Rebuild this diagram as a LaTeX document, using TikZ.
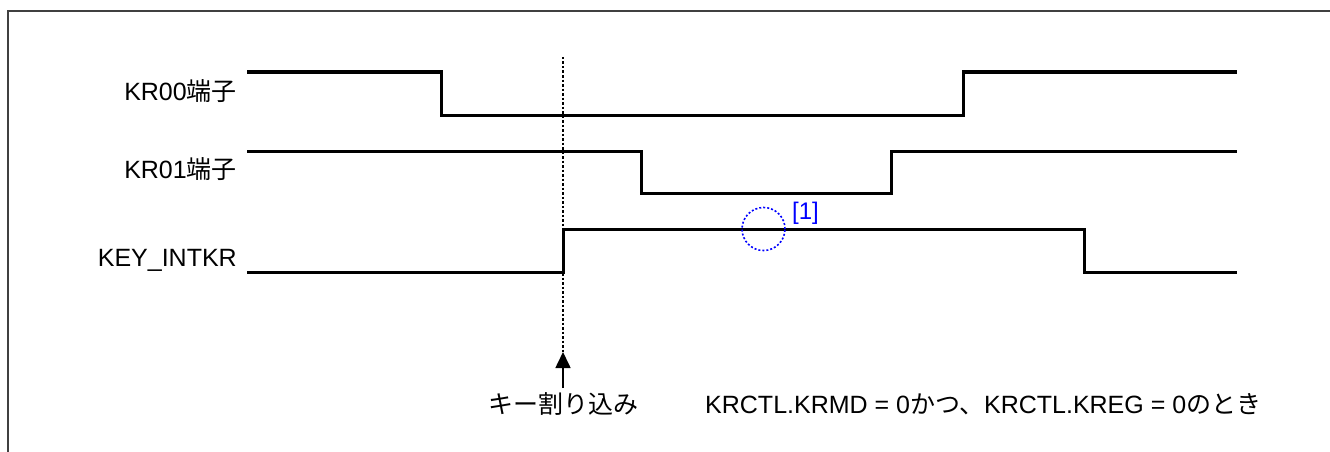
\documentclass[tikz,border=0pt]{standalone}
\usepackage{fontspec}
\setmainfont{Liberation Sans}
\newfontfamily\jpfont{Noto Sans CJK JP}
\usetikzlibrary{arrows.meta}
\begin{document}
\begin{tikzpicture}[x=1pt,y=-1pt,
  sig/.style={line width=3pt, line join=miter},
  lbl/.style={font=\fontsize{25}{30}\selectfont, inner sep=0pt, text=black},
  frameline/.style={draw=black!75, line width=1.5pt},
  guide/.style={line width=1.4pt, dash pattern=on 2.5pt off 2pt},
  marker/.style={draw=blue, line width=1.6pt, dash pattern=on 2pt off 2pt, circle, minimum size=43pt, inner sep=0pt}]
\useasboundingbox (0,0) rectangle (1330,452);
\draw[frameline] (8,452) -- (8,11) -- (1330,11);
% labels
\node[lbl, anchor=base east] (kr00) at (237,100) {KR00{\jpfont 端子}};
\node[lbl, anchor=base east] (kr01) at (237,178) {KR01{\jpfont 端子}};
\node[lbl, anchor=base east] (keyint) at (237,266) {KEY\_INTKR};
% signals
\draw[sig] (247,72) -- (441,72) -- (441,115) -- (963,115) -- (963,72) -- (1237,72);
\draw[sig] (247,151) -- (641,151) -- (641,193) -- (891,193) -- (891,151) -- (1237,151);
\draw[sig] (247,272) -- (563,272) -- (563,229) -- (1084,229) -- (1084,272) -- (1237,272);
% interrupt marker
\coordinate (dtop) at (563,57);
\coordinate (tip) at (563,352);
\coordinate (abot) at (563,388);
\draw[guide] (dtop) -- (tip);
\draw[line width=1.6pt, -{Triangle[length=16pt,width=15pt]}] (abot) -- (tip);
\node[lbl, anchor=base] (intlbl) at (563,413) {\jpfont キー割り込み};
\node[lbl, anchor=base west] (cond) at (705,413) {KRCTL.KRMD = 0{\jpfont かつ、}KRCTL.KREG = 0{\jpfont のとき}};
% circle [1]
\node[marker] (c1) at (763.5,229) {};
\node[lbl, font=\fontsize{24}{28}\selectfont, text=blue, anchor=base west] (c1lbl) at (792,219) {[1]};
\end{tikzpicture}
\end{document}
